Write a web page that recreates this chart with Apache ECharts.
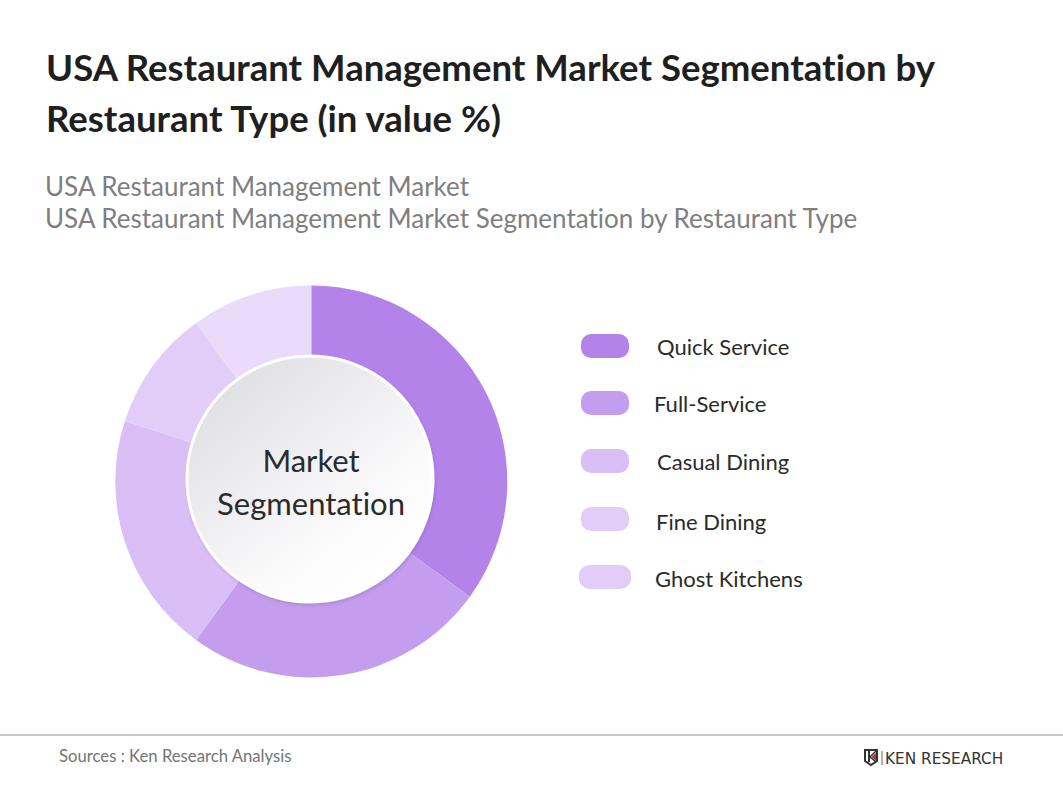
<!DOCTYPE html>
<html>
<head>
<meta charset="utf-8">
<title>USA Restaurant Management Market Segmentation</title>
<script src="https://cdn.jsdelivr.net/npm/echarts@6/dist/echarts.min.js"></script>
<style>
    html, body { margin: 0; padding: 0; background: #fff; }
    #chart { width: 1063px; height: 798px; }
    /* the original has no "ti" ligature */
    #chart text { font-variant-ligatures: none; }
</style>
</head>
<body>
<div id="chart"></div>
<script>
"use strict"

// data
const segmentNames = ["Quick Service", "Full-Service", "Casual Dining", "Fine Dining", "Ghost Kitchens"];
const segmentValues = [35, 25, 20, 10, 10];
const segmentColors = ["#b483ea", "#c59dee", "#dabff7", "#e2cdf8", "#e9dbf9"];
const legendColors = ["#b483ea", "#c59dee", "#dabff7", "#e2cdf8", "#e2cdf8"];

// legend rows are not quite aligned in the original
const legendLefts = [581, 581, 581, 581, 579];
const legendTops = [334, 391, 449, 507, 565];
const legendTextGaps = [23, 20, 23, 22, 19];
const legendTextDrops = [0, 0, 0, 4, 2];

const FONT = "Lato";
const pillIcon = "path://M10 0H38A10 10 0 0 1 48 10V14A10 10 0 0 1 38 24H10A10 10 0 0 1 0 14V10A10 10 0 0 1 10 0Z";

var myChart = echarts.init(document.getElementById("chart"), null, { renderer: "svg" });

var option = {
    animation: false,
    backgroundColor: "#fff",
    title: [{
        text: "USA Restaurant Management Market Segmentation by\nRestaurant Type (in value %)",
        left: 46,
        top: 41,
        padding: 0,
        textStyle: { fontFamily: FONT, fontSize: 36.55, fontWeight: "bold", color: "#1f1f1f", lineHeight: 51 }
    }, {
        text: "USA Restaurant Management Market\nUSA Restaurant Management Market Segmentation by Restaurant Type",
        left: 45,
        top: 170,
        padding: 0,
        textStyle: { fontFamily: FONT, fontSize: 26, fontWeight: "normal", color: "#7f7f7f", lineHeight: 32 }
    }, {
        text: "Sources : Ken Research Analysis",
        left: 59,
        top: 747,
        padding: 0,
        textStyle: { fontFamily: FONT, fontSize: 16.7, fontWeight: "normal", color: "#757575" }
    }],
    legend: segmentNames.map(function (name, i) {
        return {
            data: [{ name: name, icon: pillIcon, itemStyle: { color: legendColors[i] } }],
            left: legendLefts[i],
            top: legendTops[i],
            padding: 0,
            itemWidth: i === 4 ? 52 : 48,
            itemHeight: 24,
            symbolKeepAspect: false,
            selectedMode: false,
            formatter: "{t|{name}}",
            textStyle: {
                fontFamily: FONT,
                fontSize: 22,
                color: "#2a2a2a",
                padding: [0, 0, 0, legendTextGaps[i]],
                rich: { t: { padding: [legendTextDrops[i], 0, 0, 0] } }
            }
        };
    }),
    series: [{
        name: "Market Segmentation",
        type: "pie",
        center: [311.3, 481.5],
        radius: [118, 196],
        startAngle: 90,
        clockwise: true,
        silent: true,
        label: { show: false },
        labelLine: { show: false },
        data: segmentNames.map(function (name, i) {
            return { name: name, value: segmentValues[i], itemStyle: { color: segmentColors[i] } };
        })
    }, {
        // centre disc with the label
        type: "pie",
        center: [310, 479],
        radius: [0, 123],
        silent: true,
        z: 5,
        labelLine: { show: false },
        labelLayout: { dx: 1, dy: 2 },
        label: {
            show: true,
            position: "center",
            fontFamily: FONT,
            fontSize: 31,
            lineHeight: 43,
            color: "#2b2b2b",
            formatter: "Market\nSegmentation"
        },
        itemStyle: {
            borderColor: "#fff",
            borderWidth: 3,
            shadowColor: "rgba(60,60,70,0.18)",
            shadowBlur: 3,
            shadowOffsetX: 1,
            shadowOffsetY: 2,
            color: new echarts.graphic.LinearGradient(0.15, 0.1, 0.8, 0.9, [
                { offset: 0, color: "#e0e0e4" },
                { offset: 0.75, color: "#fbfbfc" },
                { offset: 1, color: "#ffffff" }
            ])
        },
        data: [{ name: "", value: 1 }]
    }],
    graphic: [{
        type: "line",
        shape: { x1: 0, y1: 735, x2: 1063, y2: 735 },
        style: { stroke: "#c6c6c6", lineWidth: 2 }
    }, {
        // logo mark
        type: "polygon",
        shape: { points: [[865, 750], [877, 750], [877, 761], [871, 765], [865, 761]] },
        style: { fill: "#fff", stroke: "#333", lineWidth: 2 }
    }, {
        type: "polyline",
        shape: { points: [[869, 751], [869, 762]] },
        style: { stroke: "#333", lineWidth: 2, fill: null }
    }, {
        type: "polyline",
        shape: { points: [[876, 751], [870, 757], [876, 762]] },
        style: { stroke: "#333", lineWidth: 1.5, fill: null }
    }, {
        type: "polygon",
        shape: { points: [[871.5, 757], [876, 753], [876, 761]] },
        style: { fill: "#b5323c" }
    }, {
        type: "line",
        shape: { x1: 882, y1: 751, x2: 882, y2: 765 },
        style: { stroke: "#666", lineWidth: 1 }
    }, {
        type: "text",
        left: 885,
        top: 751,
        style: { text: "KEN RESEARCH", font: "15.3px 'DejaVu Sans'", fill: "#333" }
    }]
};

myChart.setOption(option);
</script>
</body>
</html>
